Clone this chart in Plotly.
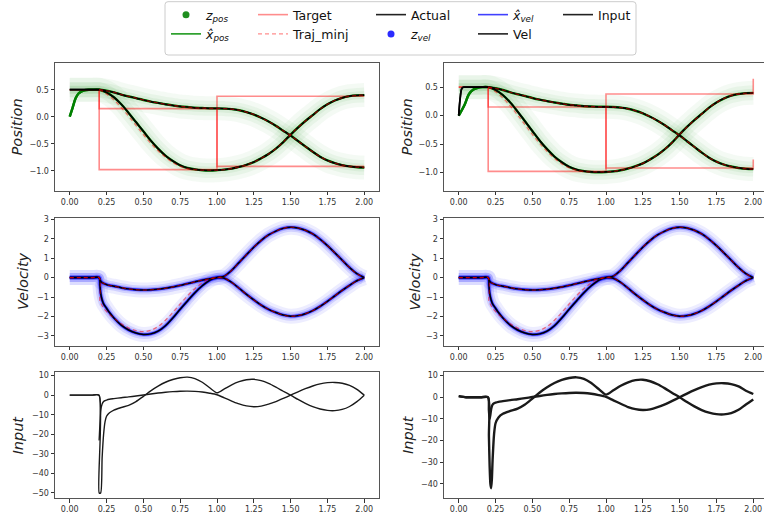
import plotly.graph_objects as go

# ---------------- data ----------------
t_pos = [0.00, 0.05, 0.10, 0.15, 0.20, 0.25, 0.30, 0.35, 0.40, 0.45, 0.50, 0.55, 0.60, 0.65,
         0.70, 0.75, 0.80, 0.85, 0.90, 0.95, 1.00, 1.05, 1.10, 1.15, 1.20, 1.25, 1.30, 1.35,
         1.40, 1.45, 1.50, 1.55, 1.60, 1.65, 1.70, 1.75, 1.80, 1.85, 1.90, 1.95, 2.00]

pos_A = [0.50, 0.50, 0.50, 0.50, 0.50, 0.45, 0.36, 0.23, 0.07, -0.10, -0.27, -0.44, -0.59, -0.72,
         -0.82, -0.90, -0.95, -0.975, -0.99, -0.995, -0.99, -0.98, -0.96, -0.93, -0.89, -0.84, -0.77, -0.69,
         -0.59, -0.47, -0.33, -0.20, -0.08, 0.03, 0.14, 0.23, 0.30, 0.35, 0.38, 0.395, 0.40]
pos_B = [0.50, 0.50, 0.50, 0.50, 0.50, 0.48, 0.45, 0.41, 0.375, 0.345, 0.31, 0.28, 0.255, 0.23,
         0.21, 0.19, 0.18, 0.165, 0.16, 0.155, 0.155, 0.15, 0.14, 0.12, 0.085, 0.04, -0.02, -0.09,
         -0.17, -0.26, -0.35, -0.45, -0.55, -0.65, -0.74, -0.81, -0.86, -0.895, -0.92, -0.935, -0.94]

# minimum-jerk reference for trajectory A between 0.20 and 0.95 s
minj_A_head = [0.50, 0.42, 0.31, 0.17, 0.01, -0.16, -0.33, -0.49, -0.63, -0.75, -0.85, -0.92,
               -0.96, -0.98, -0.99, -0.99]

# estimator start-up transients
est_t_left = [0.00, 0.02, 0.04, 0.06, 0.08, 0.10, 0.13]
est_left = [0.00, 0.17, 0.34, 0.43, 0.47, 0.49, 0.50]
est_t_right = [0.00, 0.04, 0.07, 0.10, 0.13, 0.16]
est_right = [0.00, 0.19, 0.38, 0.46, 0.49, 0.50]
act_t_right = [0.00, 0.01, 0.02, 0.03]
act_right = [0.00, 0.31, 0.47, 0.50]

# targets (step)
target_t = [0.0, 0.2, 1.0, 2.0]
target_A = [0.5, -0.98, 0.38, 0.38]
target_B = [0.5, 0.15, -0.92, -0.92]
target_t_right = [0.0, 0.2, 1.0, 2.0, 2.0]
target_A_right = [0.5, -0.98, 0.38, 0.38, 0.65]
target_B_right = [0.5, 0.15, -0.92, -0.92, -0.77]

# velocity
t_vel = [0.00, 0.05, 0.10, 0.15, 0.20, 0.205, 0.21, 0.22, 0.23, 0.25, 0.27, 0.30, 0.35, 0.40,
         0.45, 0.50, 0.55, 0.60, 0.65, 0.70, 0.75, 0.80, 0.85, 0.90, 0.95, 1.00, 1.05, 1.10,
         1.15, 1.20, 1.25, 1.30, 1.35, 1.40, 1.45, 1.50, 1.55, 1.60, 1.65, 1.70, 1.75, 1.80,
         1.85, 1.90, 1.95, 2.00]
vel_A = [0, 0, 0, 0, 0, -0.4, -0.8, -1.15, -1.35, -1.58, -1.8, -2.08, -2.45, -2.7,
         -2.86, -2.93, -2.9, -2.76, -2.48, -2.08, -1.63, -1.2, -0.78, -0.42, -0.14, 0.0, 0.08, 0.38,
         0.78, 1.18, 1.57, 1.92, 2.2, 2.4, 2.54, 2.6, 2.56, 2.44, 2.25, 1.98, 1.65, 1.28,
         0.9, 0.52, 0.2, 0.0]
vel_B = [0, 0, 0, 0, 0, -0.1, -0.18, -0.26, -0.3, -0.36, -0.4, -0.44, -0.52, -0.58,
         -0.62, -0.64, -0.63, -0.6, -0.55, -0.48, -0.4, -0.31, -0.22, -0.13, -0.06, 0.0, -0.03, -0.25,
         -0.55, -0.86, -1.15, -1.42, -1.64, -1.8, -1.93, -1.99, -1.96, -1.86, -1.7, -1.48, -1.22, -0.94,
         -0.66, -0.4, -0.16, 0.0]
minj_vel_A_head = [0, 0, 0, 0, 0, -1.22, -1.3, -1.45, -1.58, -1.75, -1.9, -2.08, -2.38, -2.6,
                   -2.73, -2.78, -2.72, -2.52, -2.2, -1.8, -1.36, -0.94, -0.57, -0.27, -0.07]

# control input
t_in_left = [0.00, 0.05, 0.10, 0.15, 0.199, 0.20, 0.21, 0.22, 0.23, 0.24, 0.25, 0.27]
in_A_left_head = [0, 0, 0, 0, 0, -50, -50, -32, -20, -13.5, -10.8, -9.0]
in_B_left_head = [0, 0, 0, 0, 0, -23, -8, -4.5, -3.2, -2.8, -2.5, -2.1]
t_in_right = [0.00, 0.05, 0.10, 0.15, 0.199, 0.205, 0.21, 0.215, 0.22, 0.225, 0.23, 0.24, 0.25, 0.27]
in_A_right_head = [0.5, 0, 0, 0, 0, -18, -32, -40, -42, -38, -29, -17, -12, -9.3]
in_B_right_head = [0.5, 0, 0, 0, 0, -6, -10, -8, -5.5, -4.2, -3.4, -2.8, -2.5, -2.1]
t_in_tail = [0.30, 0.35, 0.40, 0.45, 0.50, 0.55, 0.60, 0.65, 0.70, 0.75, 0.80, 0.85, 0.90, 0.95,
             1.00, 1.05, 1.10, 1.15, 1.20, 1.25, 1.30, 1.35, 1.40, 1.45, 1.50, 1.55, 1.60, 1.65,
             1.70, 1.75, 1.80, 1.85, 1.90, 1.95, 2.00]
in_A_tail = [-7.6, -6.3, -5.2, -3.3, -0.6, 2.2, 4.6, 6.6, 8.0, 8.9, 9.2, 8.5, 6.6, 3.8,
             1.2, 3.2, 5.3, 6.9, 7.9, 8.1, 7.4, 6.0, 4.1, 2.0, 0.0, -2.2, -4.2, -5.9,
             -7.1, -7.8, -7.9, -7.3, -5.8, -3.3]
in_B_tail = [-1.8, -1.3, -0.9, -0.4, 0.1, 0.6, 1.1, 1.5, 1.8, 2.0, 2.05, 1.95, 1.6, 1.0,
             0.2, -1.4, -3.0, -4.5, -5.5, -5.9, -5.6, -4.6, -3.3, -1.7, 0.0, 1.7, 3.3, 4.7,
             5.8, 6.4, 6.5, 6.1, 5.0, 3.0]
in_end_left = [0.0, 0.0]     # A, B at t = 2.0
in_end_right = [-1.0, 1.5]   # A, B at t = 2.0

x_ticks = [0.0, 0.25, 0.5, 0.75, 1.0, 1.25, 1.5, 1.75, 2.0]
pos_ticks = [-1.0, -0.5, 0.0, 0.5]
vel_ticks = [-3, -2, -1, 0, 1, 2, 3]
in_ticks_left = [-50, -40, -30, -20, -10, 0, 10]
in_ticks_right = [-40, -30, -20, -10, 0, 10]

# ---------------- styling ----------------
FONT = "DejaVu Sans"
GREEN = "#008000"
RED_A = "rgba(255,0,0,0.45)"
RED_D = "rgba(255,0,0,0.5)"
W, H = 764, 516

fig = go.Figure()


def add(x, y, ax, **kw):
    xa = "x" if ax == 1 else "x%d" % ax
    ya = "y" if ax == 1 else "y%d" % ax
    fig.add_trace(go.Scatter(x=x, y=y, xaxis=xa, yaxis=ya, showlegend=False,
                             hoverinfo="skip", **kw))


def spline(color, width, dash=None, smoothing=1.0):
    d = dict(color=color, width=width, shape="spline", smoothing=smoothing)
    if dash:
        d["dash"] = dash
    return d


# ---- position panels ----
for col, ax in ((0, 1), (1, 2)):
    if col == 0:
        act_t, actA, actB = t_pos, pos_A, pos_B
        et = est_t_left + t_pos[3:]
        eA = est_left + pos_A[3:]
        eB = est_left + pos_B[3:]
        tt, tA, tB = target_t, target_A, target_B
    else:
        act_t = act_t_right + t_pos[1:]
        actA = act_right + pos_A[1:]
        actB = act_right + pos_B[1:]
        et = est_t_right + t_pos[4:]
        eA = est_right + pos_A[4:]
        eB = est_right + pos_B[4:]
        tt, tA, tB = target_t_right, target_A_right, target_B_right
    # noisy observations z_pos (faint cloud)
    for yy in (pos_A, pos_B):
        add(t_pos, yy, ax, mode="lines", line=spline("rgba(0,128,0,0.045)", 24))
        add(t_pos, yy, ax, mode="lines", line=spline("rgba(0,128,0,0.05)", 15))
        add(t_pos, yy, ax, mode="lines", line=spline("rgba(0,128,0,0.06)", 8))
    # estimates
    add(et, eA, ax, mode="lines", line=spline(GREEN, 2.4))
    add(et, eB, ax, mode="lines", line=spline(GREEN, 2.4))
    # targets
    add(tt, tA, ax, mode="lines", line=dict(color=RED_A, width=1.6, shape="hv"))
    add(tt, tB, ax, mode="lines", line=dict(color=RED_A, width=1.6, shape="hv"))
    # actual
    add(act_t, actA, ax, mode="lines", line=spline("black", 1.7))
    add(act_t, actB, ax, mode="lines", line=spline("black", 1.7))
    # minimum jerk trajectories
    add(t_pos[4:], minj_A_head + pos_A[20:], ax, mode="lines", line=spline(RED_D, 1.3, dash="4px,3px"))
    add(t_pos[4:], pos_B[4:], ax, mode="lines", line=spline(RED_D, 1.3, dash="4px,3px"))

# ---- velocity panels ----
for col, ax in ((0, 3), (1, 4)):
    for yy in (vel_A, vel_B):
        add(t_vel, yy, ax, mode="lines", line=spline("rgba(0,0,255,0.07)", 15))
        add(t_vel, yy, ax, mode="lines", line=spline("rgba(0,0,255,0.12)", 9))
        add(t_vel, yy, ax, mode="lines", line=spline("rgba(0,0,255,0.2)", 5))
    add(t_vel, vel_A, ax, mode="lines", line=spline("rgba(0,0,255,0.8)", 2.6))
    add(t_vel, vel_B, ax, mode="lines", line=spline("rgba(0,0,255,0.8)", 2.6))
    add(t_vel, vel_A, ax, mode="lines", line=spline("black", 1.5))
    add(t_vel, vel_B, ax, mode="lines", line=spline("black", 1.5))
    add(t_vel, minj_vel_A_head + vel_A[25:], ax, mode="lines", line=spline(RED_D, 1.3, dash="4px,3px"))
    add(t_vel, vel_B, ax, mode="lines", line=spline(RED_D, 1.3, dash="4px,3px"))

# ---- input panels ----
for col, ax in ((0, 5), (1, 6)):
    if col == 0:
        th, hA, hB, end, w = t_in_left, in_A_left_head, in_B_left_head, in_end_left, 1.4
    else:
        th, hA, hB, end, w = t_in_right, in_A_right_head, in_B_right_head, in_end_right, 2.4
    tx = th + t_in_tail
    add(tx, hA + in_A_tail + [end[0]], ax, mode="lines", line=spline("#1a1a1a", w, smoothing=0.7))
    add(tx, hB + in_B_tail + [end[1]], ax, mode="lines", line=spline("#1a1a1a", w, smoothing=0.7))

# ---- legend keys (5 columns x 2 rows, like the reference) ----
legend_keys = [
    ("legend", 1, "<i>z</i><sub><i>pos</i></sub>", dict(mode="markers", marker=dict(color="#1f8f1f", size=7))),
    ("legend", 2, "<i>x\u0302</i><sub><i>pos</i></sub>", dict(mode="lines", line=dict(color="#1f9a1f", width=1.6))),
    ("legend2", 1, "Target", dict(mode="lines", line=dict(color="rgba(255,0,0,0.45)", width=1.6))),
    ("legend2", 2, "Traj_minj", dict(mode="lines", line=dict(color="rgba(255,0,0,0.45)", width=1.3, dash="4px,3px"))),
    ("legend3", 1, "Actual", dict(mode="lines", line=dict(color="#222", width=1.6))),
    ("legend3", 2, "<i>z</i><sub><i>vel</i></sub>", dict(mode="markers", marker=dict(color="#2b2bff", size=7))),
    ("legend4", 1, "<i>x\u0302</i><sub><i>vel</i></sub>", dict(mode="lines", line=dict(color="rgba(0,0,255,0.75)", width=1.6))),
    ("legend4", 2, "Vel", dict(mode="lines", line=dict(color="#222", width=1.6))),
    ("legend5", 1, "Input", dict(mode="lines", line=dict(color="#222", width=1.6))),
]
for lg, rank, name, style in legend_keys:
    fig.add_trace(go.Scatter(x=[None], y=[None], name=name, legend=lg, legendrank=rank,
                             showlegend=True, **style))

# ---------------- layout ----------------
col_x = [(55 / W, 379 / W), (444 / W, 1.0)]
row_y = [(1 - 190.7 / H, 1 - 62.7 / H), (1 - 345.5 / H, 1 - 217.5 / H), (1 - 498 / H, 1 - 371.7 / H)]
yranges = {1: [-1.37, 1.0], 2: [-1.32, 0.93], 3: [-3.5, 3.1], 4: [-3.5, 3.1],
           5: [-52.6, 12.0], 6: [-46.5, 11.8]}
yticks = {1: pos_ticks, 2: pos_ticks, 3: vel_ticks, 4: vel_ticks, 5: in_ticks_left, 6: in_ticks_right}
yfmt = {1: ".1f", 2: ".1f", 3: "d", 4: "d", 5: "d", 6: "d"}

layout = dict(width=W, height=H, margin=dict(l=0, r=0, t=0, b=0), autosize=False,
              paper_bgcolor="white", plot_bgcolor="white",
              font=dict(family=FONT, color="#222"))
tickfont = dict(family=FONT, size=8, color="#333")
for ax in range(1, 7):
    r = (ax - 1) // 2
    c = (ax - 1) % 2
    suffix = "" if ax == 1 else str(ax)
    layout["xaxis" + suffix] = dict(
        domain=list(col_x[c]), anchor="y" + suffix,
        range=[-0.1, 2.1] if c == 0 else [-0.1, -0.1 + (W - 444) / (324 / 2.2)],
        tickvals=x_ticks, tickformat=".2f", ticks="outside", ticklen=3.5, tickwidth=0.8,
        tickcolor="#333", showline=True, linecolor="#555", linewidth=1, mirror=True,
        showgrid=False, zeroline=False, tickfont=tickfont, automargin=False)
    layout["yaxis" + suffix] = dict(
        domain=list(row_y[r]), anchor="x" + suffix, range=yranges[ax],
        tickvals=yticks[ax], tickformat=yfmt[ax], ticks="outside", ticklen=3.5, tickwidth=0.8,
        tickcolor="#333", showline=True, linecolor="#555", linewidth=1, mirror=(c == 0),
        showgrid=False, zeroline=False, tickfont=tickfont, automargin=False)

leg_common = dict(orientation="v", yanchor="top", xanchor="left", y=1.0,
                  bgcolor="rgba(0,0,0,0)", borderwidth=0,
                  font=dict(family=FONT, size=12.5, color="#111"), tracegroupgap=0)
for name, px in (("legend", 166), ("legend2", 253), ("legend3", 371),
                 ("legend4", 473), ("legend5", 558)):
    layout[name] = dict(leg_common, x=px / W)

titles = [("Position", 16.7, 406.7, 126.7), ("Velocity", 22.5, 414, 281.5), ("Input", 17.5, 408, 435)]
ann = []
for txt, xl, xr, yc in titles:
    for xx in (xl, xr):
        ann.append(dict(text="<i>%s</i>" % txt, x=xx / W, y=1 - yc / H, xref="paper", yref="paper",
                        showarrow=False, textangle=-90, xanchor="center", yanchor="middle",
                        font=dict(family=FONT, size=14.5, color="#222")))
layout["annotations"] = ann

# legend frame
x0, x1, y0, y1 = 165 / W, 636 / W, 1 - 55 / H, 1 - 1.7 / H
rx, ry = 3 / W, 3 / H
path = ("M {a},{t} L {b},{t} Q {x1},{t} {x1},{tm} L {x1},{bp} Q {x1},{bt} {b},{bt} "
        "L {a},{bt} Q {x0},{bt} {x0},{bp} L {x0},{tm} Q {x0},{t} {a},{t} Z").format(
    a=x0 + rx, b=x1 - rx, t=y1, tm=y1 - ry, bt=y0, bp=y0 + ry, x0=x0, x1=x1)
layout["shapes"] = [dict(type="path", path=path, xref="paper", yref="paper",
                         line=dict(color="#cccccc", width=1), fillcolor="rgba(0,0,0,0)")]

fig.update_layout(**layout)
fig.write_html("out.html")
